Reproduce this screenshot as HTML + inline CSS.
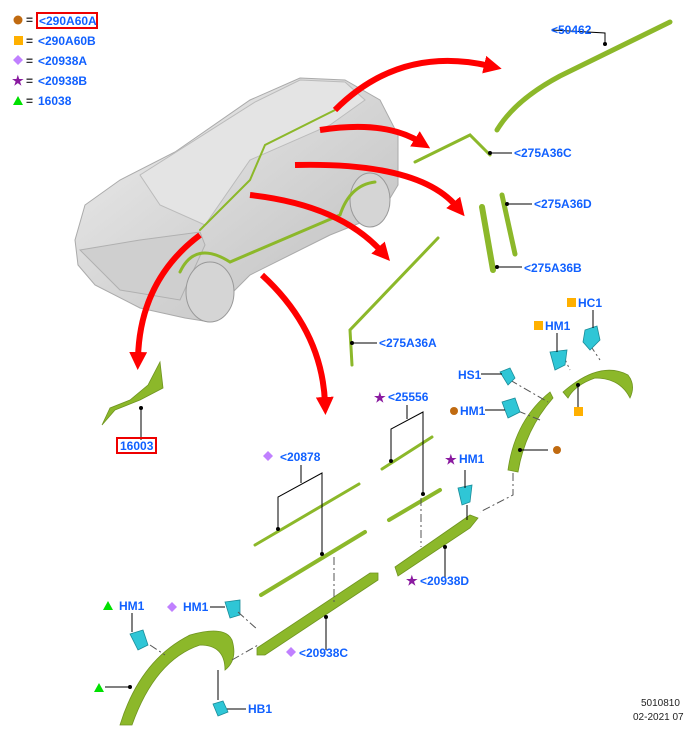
<!DOCTYPE html>
<html><head><meta charset="utf-8"><style>
html,body{margin:0;padding:0;background:#fff;}
svg{display:block}
text{font-family:"Liberation Sans",sans-serif;font-size:12px;font-weight:bold;fill:#1060ff}
.k{fill:#222;font-weight:normal;font-size:10px}
.ld{stroke:#000;stroke-width:1;fill:none}
.dd{stroke:#555;stroke-width:1;fill:none;stroke-dasharray:8,3,2,3}
.g{stroke:#8cb82a;fill:none;stroke-linecap:round}
.gf{fill:#8cb82a;stroke:#6f9420;stroke-width:.8}
.r{stroke:#ff0000;stroke-width:6;fill:none}
.c{fill:#2fc6d6;stroke:#1a8c99;stroke-width:.8}
</style></head><body>
<svg width="694" height="729" viewBox="0 0 694 729">
<defs>
<marker id="a" markerWidth="3" markerHeight="3" refX="1" refY="1.5" orient="auto" markerUnits="strokeWidth"><path d="M0,0 L3,1.5 L0,3 z" fill="#f00"/></marker>
<linearGradient id="cg" x1="0" y1="0" x2="1" y2="1"><stop offset="0" stop-color="#eee"/><stop offset="1" stop-color="#bdbdbd"/></linearGradient>
</defs>
<!-- legend -->
<circle cx="18" cy="20" r="4.5" fill="#c06a10"/><text x="26" y="24" style="fill:#333">=</text>
<rect x="37" y="13" width="60" height="15" fill="none" stroke="#e00" stroke-width="2"/><text x="39" y="25">&lt;290A60A</text>
<rect x="14" y="36" width="9" height="9" fill="#ffb000"/><text x="26" y="45" style="fill:#333">=</text><text x="38" y="45">&lt;290A60B</text>
<path d="M18,55 L23,60 L18,65 L13,60z" fill="#c080ff"/><text x="26" y="65" style="fill:#333">=</text><text x="38" y="65">&lt;20938A</text>
<text x="12" y="85" style="fill:#8a1aa0;font-size:13px">★</text><text x="26" y="85" style="fill:#333">=</text><text x="38" y="85">&lt;20938B</text>
<path d="M18,96 L23,105 L13,105z" fill="#00e000"/><text x="26" y="105" style="fill:#333">=</text><text x="38" y="105">16038</text>
<!-- car -->
<path d="M75,240 L85,205 L120,180 L175,152 L250,100 L300,78 L345,80 L380,100 L398,135 L398,185 L380,215 L330,235 L250,275 L225,300 L210,322 L185,318 L140,308 L95,285 L78,265z" fill="url(#cg)" stroke="#aaa"/>
<path d="M140,175 L255,102 L300,80 L345,82 L365,100 L330,125 L250,160 L205,225 L160,205z" fill="#e4e4e4" stroke="#bbb"/>
<path d="M80,250 L140,240 L200,232 L205,245 L180,300 L120,290z" fill="#cfcfcf" stroke="#b0b0b0"/>
<ellipse cx="210" cy="292" rx="24" ry="30" fill="#d5d5d5" stroke="#999"/>
<ellipse cx="370" cy="200" rx="20" ry="27" fill="#d5d5d5" stroke="#999"/>
<path d="M200,230 L250,180 L265,145 L335,110" class="g" stroke-width="2"/>
<path d="M180,272 Q195,240 230,262 L340,215 Q350,185 375,182" class="g" stroke-width="3"/>
<!-- red arrows -->
<path class="r" d="M335,110 Q400,45 490,66" marker-end="url(#a)"/>
<path class="r" d="M320,130 Q385,120 420,142" marker-end="url(#a)"/>
<path class="r" d="M295,165 Q420,162 457,207" marker-end="url(#a)"/>
<path class="r" d="M250,195 Q340,205 382,252" marker-end="url(#a)"/>
<path class="r" d="M200,235 Q140,280 138,358" marker-end="url(#a)"/>
<path class="r" d="M262,275 Q322,330 325,403" marker-end="url(#a)"/>
<!-- top green parts -->
<path class="g" stroke-width="5" d="M497,130 Q515,100 560,76 L670,22"/>
<path class="ld" d="M552,30 L605,33 L605,44"/><circle cx="605" cy="44" r="2"/>
<text x="551" y="34">&lt;50462</text>
<path class="g" stroke-width="3" d="M415,162 L470,135 L490,155"/>
<path class="ld" d="M490,153 L512,153"/><circle cx="490" cy="153" r="2"/><text x="514" y="157">&lt;275A36C</text>
<path class="g" stroke-width="6" d="M482,207 L493,270"/>
<path class="g" stroke-width="5" d="M502,195 L515,254"/>
<path class="ld" d="M507,204 L532,204"/><circle cx="507" cy="204" r="2"/><text x="534" y="208">&lt;275A36D</text>
<path class="ld" d="M497,267 L522,267"/><circle cx="497" cy="267" r="2"/><text x="524" y="272">&lt;275A36B</text>
<path class="g" stroke-width="3" d="M438,238 L350,330 L352,365"/>
<path class="ld" d="M352,343 L377,343"/><circle cx="352" cy="343" r="2"/><text x="379" y="347">&lt;275A36A</text>
<!-- 16003 -->
<path class="gf" d="M160,362 L163,388 L140,400 L115,410 L102,425 L110,408 L130,400 L148,385z"/>
<path class="ld" d="M141,408 L141,440"/><circle cx="141" cy="408" r="2"/>
<rect x="117" y="438" width="39" height="15" fill="none" stroke="#e00" stroke-width="2"/><text x="120" y="450">16003</text>
<!-- strips -->
<path class="g" stroke-width="3" d="M255,545 L359,484"/>
<path class="g" stroke-width="4" d="M261,595 L365,532"/>
<path class="gf" d="M257,648 L370,573 L378,573 L378,580 L265,655 L257,655z"/>
<path class="g" stroke-width="3" d="M382,469 L432,437"/>
<path class="g" stroke-width="4" d="M389,520 L440,490"/>
<path class="gf" d="M395,567 L470,515 L478,518 L470,528 L398,576z"/>
<!-- 20878 bracket -->
<path d="M268,451 L273,456 L268,461 L263,456z" fill="#c080ff"/><text x="280" y="461">&lt;20878</text>
<path class="ld" d="M301,465 L301,483 M278,529 L278,497 L322,473 L322,554"/><circle cx="278" cy="529" r="2"/><circle cx="322" cy="554" r="2"/>
<!-- 25556 bracket -->
<text x="374" y="402" style="fill:#8a1aa0;font-size:13px">★</text><text x="388" y="401">&lt;25556</text>
<path class="ld" d="M407,405 L407,419 M391,461 L391,429 L423,412 L423,494"/><circle cx="391" cy="461" r="2"/><circle cx="423" cy="494" r="2"/>
<path class="dd" d="M334,557 L334,605 M421,498 L421,547"/>
<path class="ld" d="M326,617 L326,650 M445,547 L445,577"/><circle cx="326" cy="617" r="2"/><circle cx="445" cy="547" r="2"/>
<path d="M291,647 L296,652 L291,657 L286,652z" fill="#c080ff"/><text x="299" y="657">&lt;20938C</text>
<text x="406" y="585" style="fill:#8a1aa0;font-size:13px">★</text><text x="420" y="585">&lt;20938D</text>
<!-- right arch -->
<path class="gf" d="M508,470 Q515,420 550,392 L553,398 Q525,430 518,472z"/>
<path class="gf" d="M563,392 Q600,360 628,375 Q636,385 630,398 Q620,378 595,378 Q575,385 568,398z"/>
<path class="ld" d="M520,450 L548,450"/><circle cx="520" cy="450" r="2"/><circle cx="557" cy="450" r="4" fill="#c06a10"/>
<path class="ld" d="M578,385 L578,407"/><circle cx="578" cy="385" r="2"/><rect x="574" y="407" width="9" height="9" fill="#ffb000"/>
<path class="dd" d="M513,473 L513,495 L480,512"/>
<path class="dd" d="M510,380 L548,402 M518,411 L540,420 M563,355 L570,370 M590,345 L600,360"/>
<!-- clips -->
<path class="c" d="M585,330 L597,326 L600,340 L590,350 L583,342z"/>
<path class="ld" d="M593,310 L593,328"/><rect x="567" y="298" width="9" height="9" fill="#ffb000"/><text x="578" y="307">HC1</text>
<path class="c" d="M550,352 L567,350 L565,365 L555,370z"/>
<path class="ld" d="M557,333 L557,352"/><rect x="534" y="321" width="9" height="9" fill="#ffb000"/><text x="545" y="330">HM1</text>
<path class="c" d="M500,372 L510,368 L515,378 L508,385z"/>
<path class="ld" d="M481,374 L502,374"/><text x="458" y="379">HS1</text>
<path class="c" d="M502,402 L515,398 L520,412 L508,418z"/>
<path class="ld" d="M485,410 L505,410"/><circle cx="454" cy="411" r="4" fill="#c06a10"/><text x="460" y="415">HM1</text>
<path class="c" d="M458,488 L472,485 L470,502 L462,505z"/>
<path class="ld" d="M465,470 L465,488"/><text x="445" y="464" style="fill:#8a1aa0;font-size:13px">★</text><text x="459" y="463">HM1</text>
<path class="ld" d="M467,505 L467,520"/>
<!-- left arch -->
<path class="gf" d="M120,725 Q140,660 190,635 Q225,625 232,640 Q238,660 225,670 Q225,645 200,645 Q155,660 132,725z"/>
<path class="c" d="M130,634 L143,630 L148,645 L138,650z"/>
<path class="ld" d="M132,613 L132,632"/><path d="M108,601 L113,610 L103,610z" fill="#00e000"/><text x="119" y="610">HM1</text>
<path d="M172,602 L177,607 L172,612 L167,607z" fill="#c080ff"/><text x="183" y="611">HM1</text>
<path class="ld" d="M210,607 L225,607"/>
<path class="c" d="M225,602 L240,600 L240,615 L230,618z"/>
<path class="dd" d="M238,612 L258,630 M150,645 L165,655 M232,660 L258,645"/>
<path class="ld" d="M105,687 L130,687"/><circle cx="130" cy="687" r="2"/><path d="M99,683 L104,692 L94,692z" fill="#00e000"/>
<path class="ld" d="M218,670 L218,700 M224,709 L246,709"/>
<path class="c" d="M213,704 L223,701 L228,712 L218,716z"/>
<text x="248" y="713">HB1</text>
<text class="k" x="641" y="706">5010810</text>
<text class="k" x="633" y="720">02-2021 07</text>
</svg>
</body></html>
